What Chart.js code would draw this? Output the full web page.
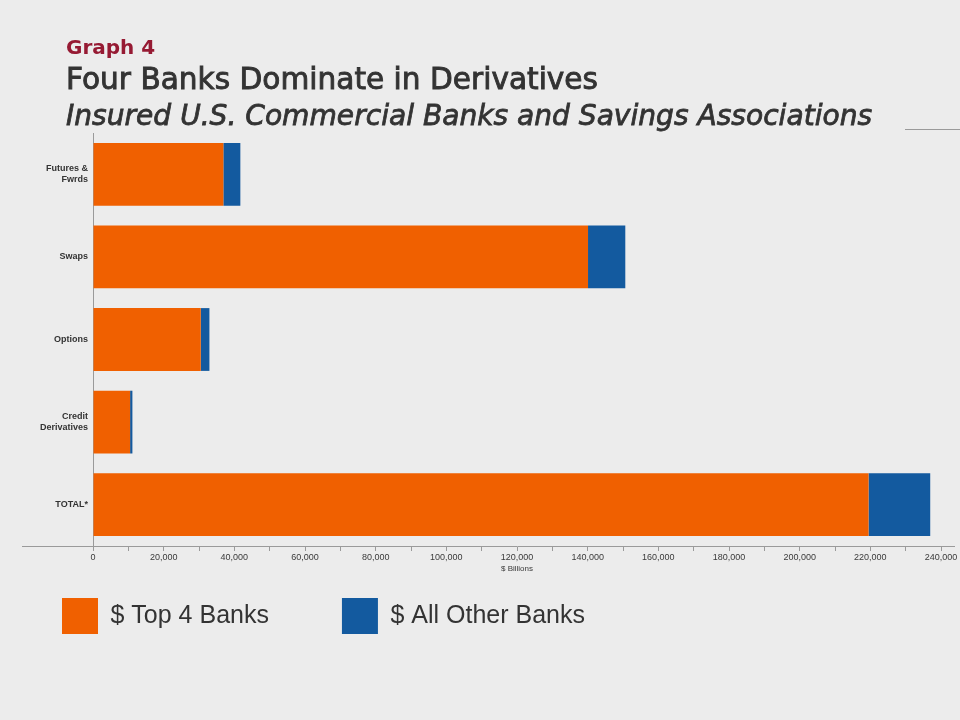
<!DOCTYPE html>
<html>
<head>
<meta charset="utf-8">
<script src="https://cdn.jsdelivr.net/npm/chart.js@4.4.1/dist/chart.umd.min.js"></script>
<style>
  html, body { margin: 0; padding: 0; background: #ececec; }
  #wrap { position: relative; width: 960px; height: 720px; overflow: hidden; background: #ececec; }
  #c { position: absolute; left: 0; top: 0; }
  .hd { position: absolute; left: 66px; white-space: nowrap; font-family: 'DejaVu Sans', sans-serif; line-height: 1; }
  #g4 { top: 37px; font-size: 20px; font-weight: bold; color: #961a33; }
  #t1 { top: 65px; font-size: 29.6px; color: #333333; -webkit-text-stroke: 0.9px #333333; }
  #t2 { top: 102px; font-size: 28.1px; font-style: italic; color: #333333; -webkit-text-stroke: 0.8px #333333; }
  #rule { position: absolute; left: 905px; top: 129px; width: 55px; height: 1px; background: #9a9a9a; }
</style>
</head>
<body>
<div id="wrap">
  <canvas id="c" width="960" height="720"></canvas>
  <div class="hd" id="g4">Graph 4</div>
  <div class="hd" id="t1">Four Banks Dominate in Derivatives</div>
  <div class="hd" id="t2">Insured U.S. Commercial Banks and Savings Associations</div>
  <div id="rule"></div>
</div>
<script>
// ---- data ----
const categories = [['Futures &', 'Fwrds'], 'Swaps', 'Options', ['Credit', 'Derivatives'], 'TOTAL*'];
const top4Banks = [36900, 140100, 30500, 10500, 219500];
const otherBanks = [4800, 10550, 2450, 650, 17450];
const seriesNames = ['$ Top 4 Banks', '$ All Other Banks'];
const xAxisTitle = '$ Billions';
const xMin = 0;
const xMax = 240000;
const xStep = 10000;
const xLabelEvery = 20000;

const ORANGE = '#f06000';
const BLUE = '#135a9f';

// extends the x-axis baseline past the plot edges, as in the reference
const axisExtend = {
  id: 'axisExtend',
  afterDraw(chart) {
    const ctx = chart.ctx;
    const y = Math.round(chart.scales.x.top) + 0.5;
    ctx.save();
    ctx.strokeStyle = '#9a9a9a';
    ctx.lineWidth = 1;
    ctx.beginPath();
    ctx.moveTo(22, y);
    ctx.lineTo(chart.chartArea.left, y);
    ctx.moveTo(chart.chartArea.right, y);
    ctx.lineTo(955, y);
    ctx.stroke();
    ctx.restore();
  }
};

// places the legend row where the reference has it
const legendPlace = {
  id: 'legendPlace',
  afterLayout(chart) {
    const lg = chart.legend;
    if (!lg) return;
    const p = lg.options.labels.padding;
    const dx = 62 - (lg.left + p);
    const dy = 598 - (lg.top + p);
    lg.left += dx; lg.right += dx;
    lg.top += dy; lg.bottom += dy;
  }
};

new Chart(document.getElementById('c'), {
  type: 'bar',
  data: {
    labels: categories,
    datasets: [
      { label: seriesNames[0], data: top4Banks, backgroundColor: ORANGE, borderWidth: 0,
        barPercentage: 0.76, categoryPercentage: 1.0 },
      { label: seriesNames[1], data: otherBanks, backgroundColor: BLUE, borderWidth: 0,
        barPercentage: 0.76, categoryPercentage: 1.0 }
    ]
  },
  options: {
    indexAxis: 'y',
    responsive: false,
    animation: false,
    devicePixelRatio: 1,
    layout: { padding: { top: 133, left: 0, right: 19, bottom: 15 } },
    plugins: {
      title: { display: false },
      tooltip: { enabled: false },
      legend: {
        display: true,
        position: 'bottom',
        align: 'start',
        labels: {
          boxWidth: 36,
          boxHeight: 36,
          padding: 73,
          color: '#333333',
          font: { family: "'Liberation Sans', Arial, sans-serif", size: 25 }
        }
      }
    },
    scales: {
      x: {
        stacked: true,
        min: xMin,
        max: xMax,
        afterFit(scale) { scale.height = 40; },
        border: { display: true, color: '#9a9a9a', width: 1 },
        grid: { drawOnChartArea: false, drawTicks: true, tickLength: 5, color: '#9a9a9a' },
        ticks: {
          stepSize: xStep,
          autoSkip: false,
          maxRotation: 0,
          padding: 1,
          color: '#3a3a3a',
          font: { family: "'Liberation Sans', Arial, sans-serif", size: 9 },
          callback(v) { return v % xLabelEvery === 0 ? Number(v).toLocaleString('en-US') : ''; }
        },
        title: {
          display: true,
          text: xAxisTitle,
          color: '#3a3a3a',
          font: { family: "'Liberation Sans', Arial, sans-serif", size: 8 },
          padding: { top: 0, bottom: 12 }
        }
      },
      y: {
        stacked: true,
        afterFit(scale) { scale.width = 93; },
        border: { display: true, color: '#9a9a9a', width: 1 },
        grid: { display: true, drawOnChartArea: false, drawTicks: false },
        ticks: {
          padding: 5,
          color: '#333333',
          font: { family: "'Liberation Sans', Arial, sans-serif", size: 9, weight: 'bold' }
        }
      }
    }
  },
  plugins: [axisExtend, legendPlace]
});
</script>
</body>
</html>
